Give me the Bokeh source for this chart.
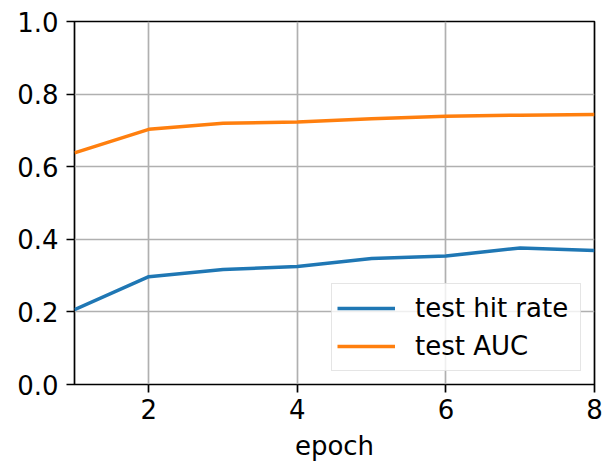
from bokeh.plotting import figure
from bokeh.models import Legend, LegendItem, FixedTicker, PrintfTickFormatter, Range1d
from bokeh.embed import file_html
from bokeh.resources import INLINE

epochs = [1, 2, 3, 4, 5, 6, 7, 8]
hit_rate = [0.206, 0.297, 0.317, 0.325, 0.347, 0.354, 0.376, 0.369]
auc = [0.638, 0.703, 0.720, 0.723, 0.732, 0.739, 0.742, 0.744]
x_ticks = [2, 4, 6, 8]
y_ticks = [0.0, 0.2, 0.4, 0.6, 0.8, 1.0]

FONT = "DejaVu Sans"

p = figure(width=603, height=463, output_backend="svg", toolbar_location=None,
           x_range=Range1d(1, 8), y_range=Range1d(0, 1),
           min_border_left=74, min_border_right=9, min_border_top=21, min_border_bottom=79)
p.background_fill_color = "white"
p.border_fill_color = "white"
p.outline_line_color = "black"
p.outline_line_width = 1.7

for ax in (p.xaxis[0], p.yaxis[0]):
    ax.axis_line_color = None
    ax.major_tick_line_color = "black"
    ax.major_tick_line_width = 1.7
    ax.major_tick_out = 8
    ax.major_tick_in = 0
    ax.minor_tick_line_color = None
    ax.major_label_text_font = FONT
    ax.major_label_text_font_size = "26px"
    ax.major_label_text_color = "black"
    ax.major_label_standoff = 8

p.xaxis.major_label_standoff = 6
p.xaxis.ticker = FixedTicker(ticks=x_ticks)
p.yaxis.ticker = FixedTicker(ticks=y_ticks)
p.yaxis.formatter = PrintfTickFormatter(format="%.1f")
p.xaxis.axis_label = "epoch"
p.xaxis.axis_label_text_font = FONT
p.xaxis.axis_label_text_font_size = "26px"
p.xaxis.axis_label_text_font_style = "normal"
p.xaxis.axis_label_text_color = "black"
p.xaxis.axis_label_standoff = 9

p.xgrid.grid_line_color = "#b0b0b0"
p.ygrid.grid_line_color = "#b0b0b0"
p.xgrid.grid_line_width = 1.7
p.ygrid.grid_line_width = 1.7

r1 = p.line(epochs, hit_rate, line_color="#1f77b4", line_width=3.5)
r2 = p.line(epochs, auc, line_color="#ff7f0e", line_width=3.5)

legend = Legend(items=[LegendItem(label="test hit rate", renderers=[r1]),
                       LegendItem(label="test AUC", renderers=[r2])],
                location="bottom_right")
legend.label_text_font = FONT
legend.label_text_font_size = "26px"
legend.label_text_color = "black"
legend.glyph_width = 58
legend.glyph_height = 38
legend.label_height = 38
legend.label_width = 160
legend.label_standoff = 20
legend.spacing = 0
legend.padding = 5
legend.margin = 13
legend.border_line_color = "#cccccc"
legend.border_line_width = 1.7
legend.background_fill_alpha = 0.8
p.add_layout(legend)

open("out.html", "w").write(file_html(p, INLINE))
